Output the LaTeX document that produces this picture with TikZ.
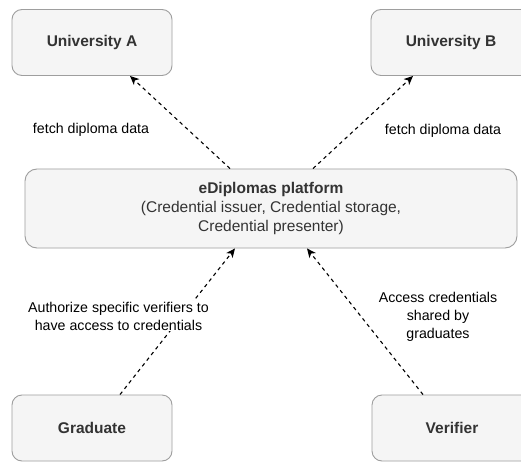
\documentclass[tikz,border=0pt]{standalone}
\usepackage{fontspec}
\setmainfont{Liberation Sans}
\usetikzlibrary{calc,arrows.meta}
\definecolor{boxfill}{HTML}{F5F5F5}
\definecolor{boxdraw}{HTML}{9E9E9E}
\definecolor{txt}{HTML}{333333}
\tikzset{
  ent/.style={draw=boxdraw, fill=boxfill, rounded corners=10pt, line width=0.9pt,
    minimum width=160pt, minimum height=66pt, inner sep=0pt, text=txt,
    font=\fontsize{15.5}{19}\selectfont\bfseries},
  plat/.style={draw=boxdraw, fill=boxfill, rounded corners=12pt, line width=0.9pt,
    minimum width=492pt, minimum height=79pt, inner sep=0pt, text=txt, align=center,
    font=\fontsize{15.5}{19.2}\selectfont},
  lbl/.style={text=black, align=center, inner sep=1pt,
    font=\fontsize{14.2}{18}\selectfont},
  lblbg/.style={lbl, fill=white},
  flow/.style={draw=black, line width=1.1pt, dash pattern=on 3.6pt off 3.6pt,
    -{Stealth[length=9pt,width=8pt,inset=2.5pt]}}
}
\begin{document}
\begin{tikzpicture}[x=1pt,y=-1pt]
\clip (0,0) rectangle (521,462);
\fill[white] (0,0) rectangle (521,462);
\node[ent] (ua) at (92,42.5) {University A};
\node[ent] (ub) at (451,42.5) {University B};
\node[ent] (gr) at (92,428) {Graduate};
\node[ent] (ve) at (452,428) {Verifier};
\node[plat] (pl) at (271,208.5) {\textbf{eDiplomas platform}\\(Credential issuer, Credential storage,\\Credential presenter)};
\draw[flow] ($(pl.north)+(-41,0)$) -- ($(ua.south)+(38,0)$);
\draw[flow] ($(pl.north)+(42,0)$) -- ($(ub.south)+(-38,0)$);
\draw[flow] ($(gr.north)+(28,0)$) -- ($(pl.south)+(-36,0)$);
\draw[flow] ($(ve.north)+(-29,0)$) -- ($(pl.south)+(36,0)$);
\node[lbl] (la) at (91,130) {fetch diploma data};
\node[lbl] (lb) at (443,131) {fetch diploma data};
\node[lblbg] (lg) at (118.5,316) {Authorize specific verifiers to\\have access to credentials};
\node[lbl] (lv) at (438,317) {Access credentials\\shared by\\graduates};
\end{tikzpicture}
\end{document}
